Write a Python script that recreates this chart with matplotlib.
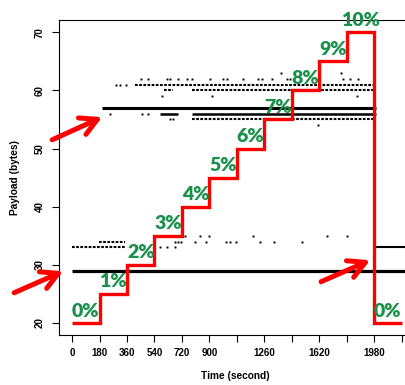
import numpy as np
import matplotlib.pyplot as plt

plt.rcParams['font.family'] = ['Liberation Sans', 'DejaVu Sans']

# injected load schedule: payload level for each 180 s window
step_edges = [0, 180, 360, 540, 720, 900, 1080, 1260, 1440, 1620, 1800, 1980, 2160]
step_levels = [20, 25, 30, 35, 40, 45, 50, 55, 60, 65, 70, 20]
step_labels = ['0%', '1%', '2%', '3%', '4%', '5%', '6%', '7%', '8%', '9%', '10%', '0%']

# dense packet runs (payload in bytes, start s, end s)
solid_payload = [29, 57, 56, 56, 33]
solid_start = [0, 197, 577, 787, 1993]
solid_end = [2240, 1990, 695, 1990, 2240]
solid_lw = [2.3, 2.2, 1.8, 1.8, 1.5]

# looser runs of packets
dotted_payload = [33, 34, 61, 60, 60, 55]
dotted_start = [0, 177, 413, 603, 787, 787]
dotted_end = [350, 347, 1973, 662, 1973, 1990]

# isolated packets
dot_time = [452, 498, 623, 642, 695, 754, 787, 905, 990, 1016, 1121, 1219, 1246,
            1311, 1410, 1429, 1777, 1823, 1875,
            288, 315, 354,
            1370, 1764,
            590, 918, 1868,
            249, 459, 498,
            642, 662,
            1613,
            741, 839, 898, 1187, 1672, 1803,
            675, 695, 715, 806, 878, 1010, 1036, 1075, 1233, 1324, 1508,
            577, 623, 675]
dot_payload = [62] * 19 + [61] * 3 + [63] * 2 + [59] * 3 + [56] * 3 + [55] * 2 + [54] \
    + [35] * 6 + [34] * 11 + [33] * 3

# arrows pointing at the normal traffic bands
arrow_tail = [(-131, 51.5), (-380, 25.2), (1632, 27.1)]
arrow_tip = [(197, 55.4), (-59, 28.9), (1954, 30.8)]

fig = plt.figure(figsize=(4.06, 3.85), dpi=100)
ax = fig.add_axes([59 / 406, 50 / 385, 353.4 / 406, 315 / 385])

ax.hlines(solid_payload, solid_start, solid_end, colors='black', lw=solid_lw, zorder=2)
ax.hlines(dotted_payload, dotted_start, dotted_end, colors='black', lw=1.5,
          linestyles=[(0, (1.3, 0.7))], zorder=2)
ax.plot(dot_time, dot_payload, 's', color='black', ms=1.4, mew=0, zorder=2)

# red load profile
ax.stairs(step_levels, step_edges, baseline=None, color='#ff0000', lw=2.4, zorder=3)
for i, lab in enumerate(step_labels):
    mid = (step_edges[i] + step_edges[i + 1]) / 2
    ax.annotate(lab, (mid, step_levels[i]), xytext=(0, 2.5), textcoords='offset points',
                ha='center', va='bottom', fontsize=14, fontweight='heavy',
                family='Lato', color='#17904a', zorder=4)

for tail, tip in zip(arrow_tail, arrow_tip):
    ax.annotate('', xy=tip, xytext=tail, annotation_clip=False,
                arrowprops=dict(arrowstyle='->,head_length=1.2,head_width=0.65',
                                color='#ff0000', lw=3.6, shrinkA=0, shrinkB=0))

ax.set_xlim(-86, 2231)
ax.set_ylim(17.94, 72.1)

xt = np.arange(0, 2161, 180)
xl = [str(v) if v in (0, 180, 360, 540, 720, 900, 1260, 1620, 1980) else '' for v in xt]
ax.set_xticks(xt, xl, fontsize=7, fontweight='bold')
yt = [20, 30, 40, 50, 60, 70]
ax.set_yticks(yt, [str(v) for v in yt], fontsize=7, fontweight='bold',
              rotation=90, va='center')
ax.tick_params(direction='out', length=5, width=0.8, pad=4.5)
ax.tick_params(axis='y', pad=5)

for s in ax.spines.values():
    s.set_linewidth(0.8)

ax.set_xlabel('Time (second)', fontsize=7.3, fontweight='bold')
ax.set_ylabel('Payload (bytes)', fontsize=7.3, fontweight='bold')
ax.xaxis.set_label_coords(0.5, -0.113)
ax.yaxis.set_label_coords(-0.11, 0.5)

fig.savefig('out.png', dpi=100)
